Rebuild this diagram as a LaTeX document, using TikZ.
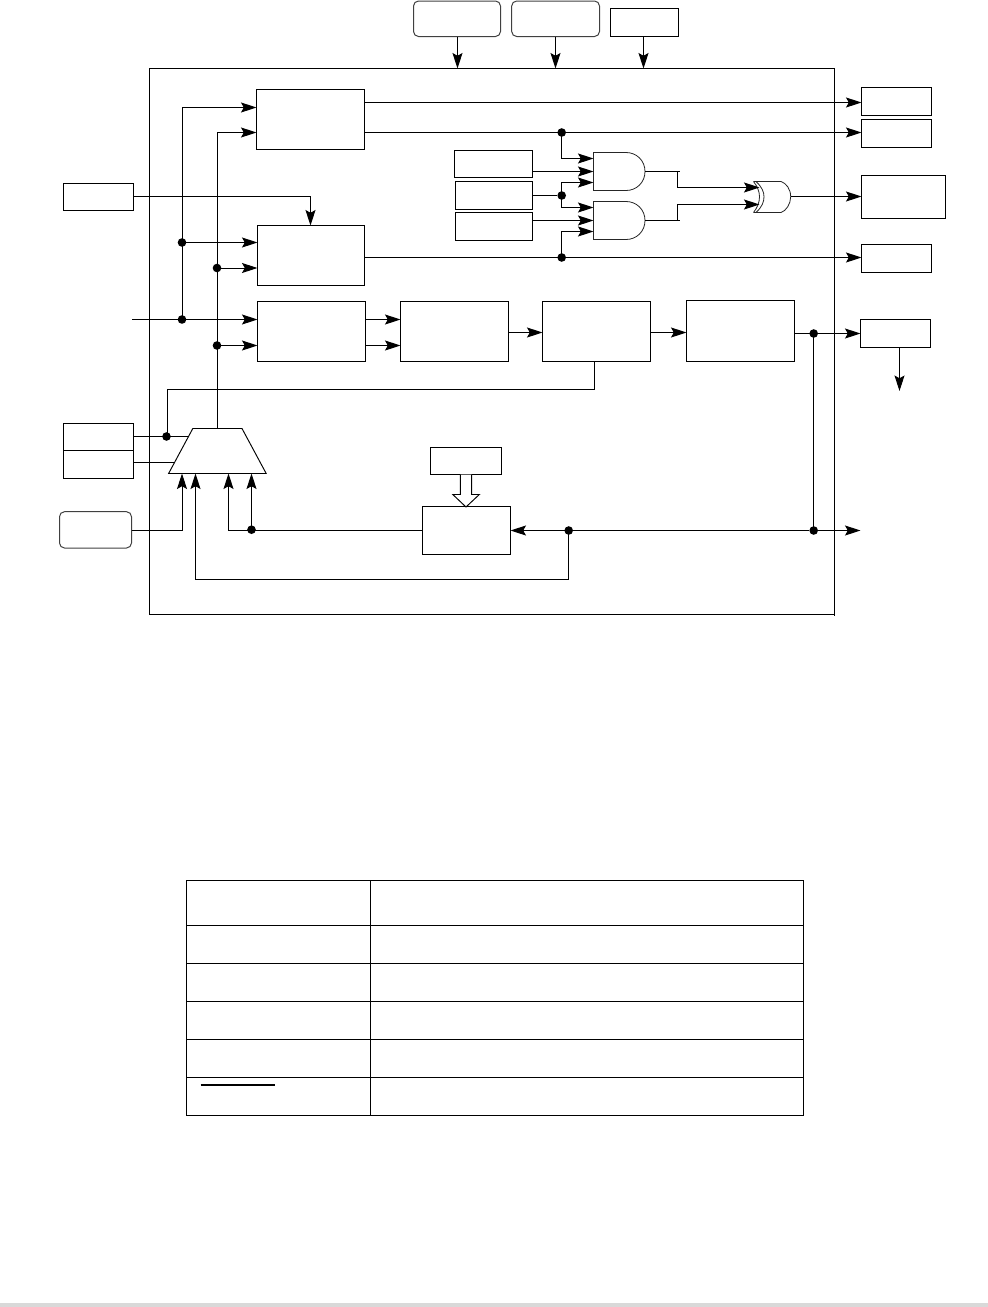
\documentclass[tikz,border=0pt]{standalone}
\usetikzlibrary{arrows.meta}
\tikzset{
  wire/.style={line width=0.95pt,line cap=butt,line join=miter},
  arr/.style={wire,-{Stealth[length=15.5pt,width=10pt,inset=2.8pt]}},
  blockbox/.style={draw,line width=0.95pt,rectangle,inner sep=0pt,outer sep=0pt},
  roundbox/.style={draw=black!75,line width=1pt,rectangle,rounded corners=5pt,inner sep=0pt,outer sep=0pt},
  jdot/.style={circle,fill=black,inner sep=0pt,outer sep=0pt,minimum size=8.6pt},
  gatebody/.style={line width=0.8pt,draw=black!85},
  tablerule/.style={line width=1pt}
}
\newcommand{\bx}[6][blockbox]{%
  \pgfmathsetmacro{\bxw}{#5-#3}\pgfmathsetmacro{\bxh}{#6-#4}%
  \pgfmathsetmacro{\bxcx}{(#3+#5)/2}\pgfmathsetmacro{\bxcy}{(#4+#6)/2}%
  \node[#1,minimum width=\bxw pt,minimum height=\bxh pt] (#2) at (\bxcx,\bxcy) {};}
\begin{document}
\begin{tikzpicture}[x=1pt,y=-1pt]
\useasboundingbox (0,0) rectangle (988,1307);
% page band
\fill[black!15] (0,1302.5) rectangle (988,1307);

% outer frame
\bx{frame}{149.5}{68.5}{834.7}{614.3}
\draw[wire] (frame.south east) -- ++(0,2);

% top inputs
\bx[roundbox]{t1}{413.5}{1}{500.5}{36.5}
\bx[roundbox]{t2}{511.7}{1}{599.5}{36.5}
\bx{t3}{610.3}{8.5}{678.7}{36.5}
\draw[arr] (457.5,36.5) -- (457.5,68.5);
\draw[arr] (555.5,36.5) -- (555.5,68.5);
\draw[arr] (643.5,36.5) -- (643.5,68.5);

% main blocks
\bx{A}{256.5}{89.5}{364.5}{149.5}
\bx{B}{257.5}{225.5}{364.5}{285.5}
\bx{C}{257.5}{301.5}{365.5}{361.5}
\bx{D}{400.5}{301.5}{508.5}{361.5}
\bx{E}{542.5}{301.5}{650.5}{361.5}
\bx{F}{686.5}{300.5}{794.5}{361.5}
\bx{H}{422.5}{506.5}{510.5}{554.5}
\bx{I}{430.5}{447.5}{501.5}{474.5}

% outputs
\bx{K1}{861.5}{87.5}{931.5}{115.5}
\bx{K2}{861.5}{119.5}{931.5}{147.5}
\bx{K3}{861.5}{175.5}{945.5}{218.5}
\bx{K4}{861.5}{244.5}{931.5}{272.5}
\bx{G}{860.5}{319.5}{930.5}{347.5}

% left inputs
\bx{J}{63.5}{183.5}{133.5}{210.5}
\bx{M1}{63.5}{423.5}{133.5}{450.5}
\bx{M2}{63.5}{450.5}{133.5}{478.5}
\bx[roundbox]{N}{59.5}{511.7}{131.5}{548}

% gate input boxes
\bx{L1}{454.5}{150.5}{532.5}{177.5}
\bx{L2}{455.5}{181.5}{532.5}{209.5}
\bx{L3}{455.5}{212.5}{532.5}{240.5}

% junctions
\node[jdot] (d1) at (182,242.5) {};
\node[jdot] (d2) at (182,319.5) {};
\node[jdot] (d3) at (217,268) {};
\node[jdot] (d4) at (217,345.5) {};
\node[jdot] (d5) at (561.7,132.5) {};
\node[jdot] (d6) at (561.7,195.5) {};
\node[jdot] (d7) at (561.7,257.5) {};
\node[jdot] (d8) at (813.7,333.5) {};
\node[jdot] (d9) at (813.7,530.5) {};
\node[jdot] (d10) at (568.7,530.5) {};
\node[jdot] (d11) at (251.5,529.7) {};
\node[jdot] (d12) at (166.5,436.5) {};

% mux
\coordinate (muxTL) at (192.8,428.5);
\coordinate (muxTR) at (242,428.5);
\coordinate (muxBR) at (266.2,473.5);
\coordinate (muxBL) at (168.6,473.5);
\draw[wire] (muxTL) -- (muxTR) -- (muxBR) -- (muxBL) -- cycle;

% A, B, C inputs
\coordinate (inC) at (132,319.5);
\draw[wire] (inC) -- (d2);
\draw[arr] (d2) -- (C.west |- d2);
\draw[arr] (d2.center) -- (182,107.5) -- (A.west |- 0,107.5);
\draw[arr] (d1) -- (B.west |- d1);
\draw[arr] (217,428.5) -- (217,132.5) -- (A.west |- 0,132.5);
\draw[arr] (d3) -- (B.west |- d3);
\draw[arr] (d4) -- (C.west |- d4);
\draw[arr] (J.east |- 0,196.5) -- (310.5,196.5) -- (310.5,225.5);

% outputs of A and B
\draw[arr] (A.east |- 0,102.5) -- (K1.west |- 0,102.5);
\draw[arr] (A.east |- d5) -- (K2.west |- d5);
\draw[arr] (B.east |- d7) -- (K4.west |- d7);

% chain
\draw[arr] (C.east |- 0,319.5) -- (D.west |- 0,319.5);
\draw[arr] (C.east |- 0,345.5) -- (D.west |- 0,345.5);
\draw[arr] (D.east |- 0,332.5) -- (E.west |- 0,332.5);
\draw[arr] (E.east |- 0,332.5) -- (F.west |- 0,332.5);
\draw[arr] (F.east |- d8) -- (G.west |- d8);
\draw[arr] (G.south -| 899.5,0) -- (899.5,391);
\draw[wire] (d8.center) -- (d9.center);
\draw[arr] (d9) -- (860.5,530.5);
\draw[arr] (d9) -- (H.east |- d9);
\draw[wire] (d10.center) -- (568.7,579.5) -- (195.5,579.5);
\draw[arr] (195.5,579.5) -- (195.5,473.5);

% feedback from H
\draw[wire] (H.west |- d9) -- (228.5,530.5);
\draw[arr] (228.5,530.5) -- (228.5,473.5);
\draw[arr] (d11.center) -- (251.5,473.5);

% I to H hollow arrow
\draw[wire,fill=white] (460.3,474.5) -- (460.3,494.5) -- (452.8,494.5) -- (466,507) -- (479.3,494.5) -- (471.7,494.5) -- (471.7,474.5);

% E feedback and left inputs
\draw[wire] (E.south -| 594.7,0) -- (594.7,389.5) -- (167.5,389.5) -- (167.5,436.5);
\draw[wire] (M1.east |- d12) -- (188,436.5);
\draw[wire] (M2.east |- 0,462.5) -- (174.5,462.5);
\draw[wire] (N.east |- 0,530.5) -- (182,530.5);
\draw[arr] (182,530.5) -- (182,473.5);

% AND gates
\draw[gatebody] (593.5,152.5) -- (626,152.5) .. controls (636.5,152.5) and (645,160.5) .. (645,171.5) .. controls (645,182.5) and (636.5,190.5) .. (626,190.5) -- (593.5,190.5) -- cycle;
\draw[gatebody] (593.5,201.5) -- (626,201.5) .. controls (636.5,201.5) and (645,209.5) .. (645,220.5) .. controls (645,231.5) and (636.5,239.5) .. (626,239.5) -- (593.5,239.5) -- cycle;

% gate inputs
\draw[arr] (d5.center) -- (561.7,158.5) -- (593.5,158.5);
\draw[arr] (L1.east |- 0,171.5) -- (593.5,171.5);
\draw[wire] (L2.east |- d6) -- (d6);
\draw[arr] (d6.center) -- (561.7,182.5) -- (593.5,182.5);
\draw[arr] (d6.center) -- (561.7,207.5) -- (593.5,207.5);
\draw[arr] (L3.east |- 0,220.5) -- (593.5,220.5);
\draw[arr] (d7.center) -- (561.7,231.5) -- (593.5,231.5);

% XOR gate
\draw[gatebody] (753.5,181.5) -- (781,181.5) .. controls (786,183) and (790.7,189) .. (790.7,196.7) .. controls (790.7,204) and (786,211) .. (781,212.5) -- (753.5,212.5);
\draw[gatebody] (756,181.5) .. controls (762,187) and (764,192) .. (764,196.7) .. controls (764,202) and (762,207) .. (756,212.5);
\draw[gatebody] (753.5,181.5) .. controls (757,186) and (759.5,191) .. (759.5,196.7) .. controls (759.5,203) and (757,208) .. (753.5,212.5);
\draw[wire] (644.7,171.5) -- (679.5,171.5);
\draw[wire] (644.7,220.5) -- (679.5,220.5);
\draw[arr] (677.7,171.5) -- (677.7,187.5) -- (759.5,187.5);
\draw[arr] (677.7,220.5) -- (677.7,204.5) -- (759.5,204.5);
\draw[arr] (790.7,196.5) -- (K3.west |- 0,196.5);

% table
\node[draw,tablerule,rectangle,inner sep=0pt,outer sep=0pt,minimum width=617pt,minimum height=235pt] (tbl) at (494.5,997.5) {};
\draw[tablerule] (370.5,880) -- (370.5,1115);
\draw[tablerule] (186,925.5) -- (803,925.5);
\draw[tablerule] (186,963.5) -- (803,963.5);
\draw[tablerule] (186,1001.5) -- (803,1001.5);
\draw[tablerule] (186,1039.5) -- (803,1039.5);
\draw[tablerule] (186,1077.5) -- (803,1077.5);
\draw[line width=2pt] (200.5,1084.5) -- (275,1084.5);
\end{tikzpicture}
\end{document}
